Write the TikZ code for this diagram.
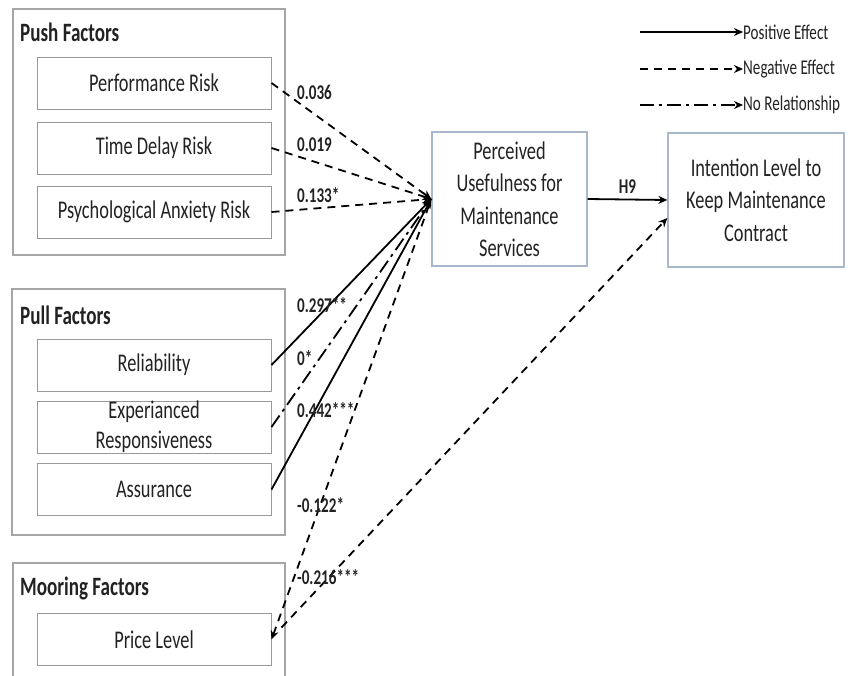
\documentclass[tikz,border=0pt]{standalone}
\usepackage{fontspec}
\setmainfont{Carlito}[FakeStretch=0.72]
\usepackage{tikz}
\usetikzlibrary{arrows.meta}
\definecolor{bc}{HTML}{A9B7CC}
\definecolor{txt}{HTML}{222222}
\tikzstyle{group} = [draw=gray!70, line width=1.2pt, inner sep=0pt]
\tikzstyle{grouptitle} = [anchor=west, inner sep=0pt, font=\bfseries\fontsize{26.5}{26.5}\selectfont, text=txt]
\tikzstyle{factor} = [draw=gray!80, line width=1pt, minimum width=234pt, minimum height=52pt, inner sep=0pt, align=center, font=\fontsize{25.5}{30}\selectfont, text=txt]
\tikzstyle{construct} = [draw=bc, line width=1.3pt, inner sep=0pt, align=center, font=\fontsize{25.5}{32.5}\selectfont, text=txt]
\tikzstyle{coef} = [anchor=west, inner sep=0pt, font=\bfseries\fontsize{21}{21}\selectfont, text=txt]
\tikzstyle{legend} = [anchor=west, inner sep=0pt, font=\fontsize{21}{21}\selectfont, text=txt]
\tikzstyle{poseff} = [line width=1.8pt, -{Stealth[length=9pt,width=8pt]}]
\tikzstyle{negeff} = [line width=1.8pt, dash pattern=on 8pt off 6pt, -{Stealth[length=9pt,width=8pt]}]
\tikzstyle{noeff} = [line width=1.8pt, dash pattern=on 14pt off 5pt on 3pt off 5pt, -{Stealth[length=9pt,width=8pt]}]

\begin{document}
\begin{tikzpicture}[x=1pt,y=-1pt]
			\useasboundingbox (0,0) rectangle (848,675);
			% factor groups
			\node[group, minimum width=272pt, minimum height=246pt] (push) at (149,132) {};
			\node[group, minimum width=273pt, minimum height=246pt] (pull) at (148.5,412) {};
			\node[group, minimum width=272pt, minimum height=140pt] (moor) at (149,633) {};
			\node[grouptitle] (pusht) at (20,32) {Push Factors};
			\node[grouptitle] (pullt) at (20,315) {Pull Factors};
			\node[grouptitle] (moort) at (20,588) {Mooring Factors};
			% factors
			\node[factor] (pr) at (154,83) {Performance Risk};
			\node[factor] (td) at (154,148) {Time Delay Risk};
			\node[factor] (pa) at (154,212) {Psychological Anxiety Risk};
			\node[factor] (rl) at (154,365) {Reliability};
			\node[factor] (er) at (154,427) {Experianced\\Responsiveness};
			\node[factor] (as) at (154,489.5) {Assurance};
			\node[factor] (pl) at (154,639.5) {Price Level};
			% constructs
			\node[construct, minimum width=155pt, minimum height=134pt] (pu) at (509.5,199) {Perceived\\Usefulness for\\Maintenance\\Services};
			\node[construct, minimum width=176pt, minimum height=134pt] (ik) at (756,200) {Intention Level to\\Keep Maintenance\\Contract};
			% paths
			\draw[negeff] (pr.east) -- (pu.west);
			\draw[negeff] (td.east) -- (pu.west);
			\draw[negeff] (pa.east) -- (pu.west);
			\draw[poseff] (rl.east) -- (pu.west);
			\draw[noeff] (er.east) -- (pu.west);
			\draw[poseff] (as.east) -- (pu.west);
			\draw[negeff, {Stealth[length=9pt,width=8pt]}-] (pl.east) -- (pu.west);
			\draw[negeff] ([xshift=10pt,yshift=12pt]pl.east) -- ([yshift=-18pt]ik.west);
			\draw[poseff] (pu.east) --node[coef, anchor=south, above=5pt]{H9} (ik.west);
			% coefficients
			\node[coef] (c1) at (297,92) {0.036};
			\node[coef] (c2) at (297,145) {0.019};
			\node[coef] (c3) at (297,195) {0.133*};
			\node[coef] (c4) at (297,305) {0.297**};
			\node[coef] (c5) at (297,358) {0*};
			\node[coef] (c6) at (297,410) {0.442***};
			\node[coef] (c7) at (297,505) {-0.122*};
			\node[coef] (c8) at (297,577) {-0.216***};
			% legend
			\coordinate (lp0) at (640,32);
			\coordinate (ln0) at (640,69);
			\coordinate (lr0) at (640,105);
			\node[legend] (lp) at (743,32) {Positive Effect};
			\node[legend] (ln) at (743,69) {Negative Effect};
			\node[legend] (lr) at (743,105) {No Relationship};
			\draw[poseff, line width=2.4pt] (lp0) -- (lp.west);
			\draw[negeff, line width=2.4pt] (ln0) -- (ln.west);
			\draw[noeff, line width=2.8pt] (lr0) -- (lr.west);
		\end{tikzpicture}
\end{document}
